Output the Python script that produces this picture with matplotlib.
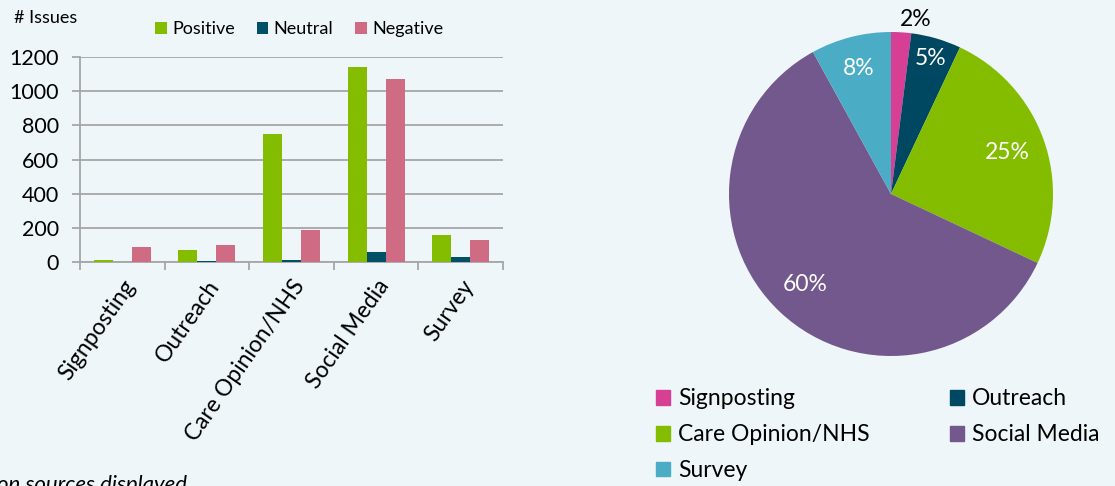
import numpy as np
import matplotlib
matplotlib.use('Agg')
import matplotlib.pyplot as plt
from matplotlib.patches import Patch

plt.rcParams['font.family'] = ['Lato', 'DejaVu Sans']

# ===== data =====
sources = ['Signposting', 'Outreach', 'Care Opinion/NHS', 'Social Media', 'Survey']
positive = [10, 72, 752, 1142, 158]
neutral = [2, 6, 10, 60, 31]
negative = [88, 101, 189, 1070, 126]

share = [2, 5, 25, 60, 8]  # % of all issues by source

BG = '#EEF6F9'
c_pos, c_neu, c_neg = '#84BD00', '#005068', '#D06B84'
pie_colors = ['#D63F94', '#004761', '#84BD00', '#72588C', '#4BACC6']
GRID = '#A6A6A6'

fig = plt.figure(figsize=(11.15, 4.86), dpi=100, facecolor=BG)

# ===== bar chart =====
ax = fig.add_axes([80 / 1115, 1 - 262 / 486, 423 / 1115, 205 / 486])
ax.set_facecolor(BG)
x = np.arange(len(sources))
w = 0.225
ax.bar(x - w, positive, w, color=c_pos, label='Positive', zorder=3)
ax.bar(x, neutral, w, color=c_neu, label='Neutral', zorder=3)
ax.bar(x + w, negative, w, color=c_neg, label='Negative', zorder=3)

ax.set_xlim(-0.5, len(sources) - 0.5)
ax.set_ylim(0, 1200)
ax.set_yticks(range(0, 1201, 200))
ax.yaxis.grid(True, color=GRID, lw=1.3, zorder=0)
for s in ['top', 'right']:
    ax.spines[s].set_visible(False)
for s in ['left', 'bottom']:
    ax.spines[s].set_color(GRID)
    ax.spines[s].set_linewidth(1.3)
ax.tick_params(axis='y', length=6, width=1.3, color=GRID, labelsize=15.5, pad=9)
ax.set_xticks(x)
ax.set_xticklabels(sources, rotation=55, ha='right', va='top',
                   rotation_mode='anchor', fontsize=16.5)
ax.tick_params(axis='x', length=0, pad=10)
ax.set_xticks(np.arange(-0.5, len(sources)), minor=True)
ax.tick_params(axis='x', which='minor', length=6, width=1.3, color=GRID)

fig.text(14 / 1115, 1 - 18 / 486, '# Issues', fontsize=13, va='center')
ax.legend(loc='lower left', bbox_to_anchor=(146 / 1115, 1 - 46 / 486),
          bbox_transform=fig.transFigure, ncol=3, frameon=False,
          fontsize=13, handlelength=0.65, handleheight=0.65,
          handletextpad=0.3, columnspacing=1.2, borderpad=0)

# ===== pie chart =====
R = 162
pax = fig.add_axes([(891 - R) / 1115, (486 - 194 - R) / 486, 2 * R / 1115, 2 * R / 486])
pax.pie(share, colors=pie_colors, startangle=90, counterclock=False,
        radius=1, wedgeprops=dict(linewidth=0))
pax.set_xlim(-1, 1)
pax.set_ylim(-1, 1)
pax.set_aspect('equal')
pax.axis('off')

# label distance from centre and small angular nudge for each slice
dist = [1.09, 0.87, 0.76, 0.77, 0.8]
nudge = [-4.5, 0, 0, 0, 0]
start = 90
for val, d, dn in zip(share, dist, nudge):
    mid = np.deg2rad(start - val * 3.6 / 2 + dn)
    start -= val * 3.6
    col = 'black' if d > 1 else 'white'
    pax.text(d * np.cos(mid), d * np.sin(mid), f'{val}%', color=col,
             fontsize=16.5, ha='center', va='center')

order = [0, 2, 4, 1, 3]
handles = [Patch(color=pie_colors[i], label=sources[i]) for i in order]
fig.legend(handles=handles, loc='upper left', bbox_to_anchor=(645 / 1115, 1 - 377 / 486),
           ncol=2, frameon=False, fontsize=16.5, handlelength=0.6, handleheight=0.6,
           handletextpad=0.35, columnspacing=3.5, labelspacing=0.65, borderpad=0)

fig.text(-3 / 1115, -5 / 486, 'on sources displayed', fontsize=16, style='italic',
         va='baseline', ha='left')

fig.savefig('out.png', dpi=100, facecolor=BG)
